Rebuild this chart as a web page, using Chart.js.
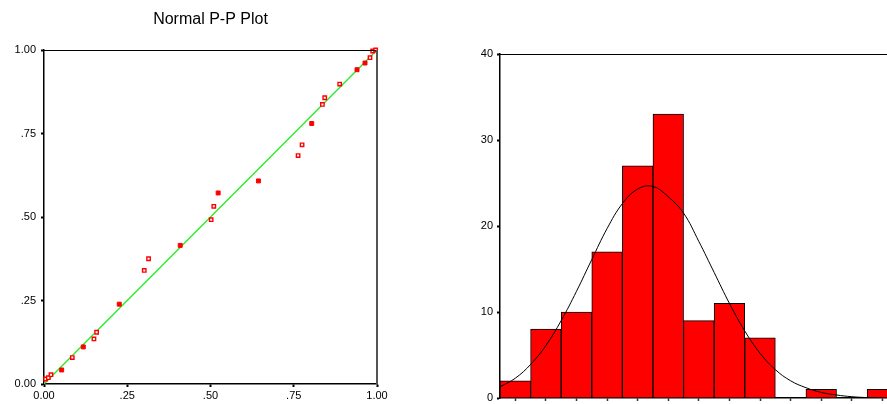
<!DOCTYPE html>
<html>
<head>
<meta charset="utf-8">
<script src="https://cdn.jsdelivr.net/npm/chart.js@4"></script>
<style>
  html, body { margin: 0; padding: 0; background: #fff; overflow: hidden; }
  #left { position: absolute; left: 0; top: 0; width: 440px; height: 404px; }
  #right { position: absolute; left: 440px; top: 0; width: 447px; height: 424px; }
</style>
</head>
<body>
<div id="left"><canvas id="pp"></canvas></div>
<div id="right"><canvas id="hist"></canvas></div>
<script>
// P-P plot: observed cum prob (x) vs expected cum prob (y)
const ppOpenX = [0.005, 0.013, 0.021, 0.085, 0.150, 0.158, 0.301, 0.314, 0.502, 0.510, 0.763, 0.775, 0.836, 0.843, 0.888, 0.979, 0.987, 0.996];
const ppOpenY = [0.015, 0.019, 0.028, 0.079, 0.135, 0.155, 0.340, 0.375, 0.492, 0.532, 0.684, 0.716, 0.837, 0.857, 0.898, 0.977, 0.997, 1.000];
const ppSolidX = [0.053, 0.118, 0.226, 0.409, 0.523, 0.644, 0.804, 0.940, 0.964];
const ppSolidY = [0.042, 0.111, 0.239, 0.415, 0.572, 0.608, 0.780, 0.941, 0.961];
const ppTicks = [0, 0.25, 0.5, 0.75, 1];
const ppTickLabels = ['0.00', '.25', '.50', '.75', '1.00'];

// histogram
const binCenters = [0.5, 1.5, 2.5, 3.5, 4.5, 5.5, 6.5, 7.5, 8.5, 9.5, 10.5, 11.5, 12.5];
const binCounts = [2, 8, 10, 17, 27, 33, 9, 11, 7, 0, 1, 0, 1];
const curveX = [0, 0.5, 1, 1.5, 2, 2.5, 3, 3.5, 4, 4.5, 5, 5.5, 6, 6.5, 7, 7.5, 8, 8.5, 9, 9.5, 10, 10.5, 11, 11.5, 12, 12.5];
const curveY = [1.3, 2.3, 3.9, 6.1, 9.0, 12.4, 16.1, 19.7, 22.6, 24.3, 24.6, 23.4, 21.5, 18.2, 14.6, 11.0, 7.8, 5.2, 3.3, 2.0, 1.2, 0.65, 0.35, 0.15, 0.05, 0];
const histTicks = [0, 10, 20, 30, 40];

const font = { family: 'Liberation Sans, Arial, sans-serif', size: 11 };
Chart.defaults.color = '#000';

const framePlugin = {
    id: 'frame',
    afterDraw(chart, args, opts) {
        const a = chart.chartArea;
        const c = chart.ctx;
        c.save();
        c.strokeStyle = '#000';
        c.lineWidth = 1;
        c.beginPath();
        c.moveTo(a.left, a.top + 0.5);
        c.lineTo(a.right, a.top + 0.5);
        c.stroke();
        if (opts.right) {
            c.strokeStyle = '#555';
            c.lineWidth = 2;
            c.beginPath();
            c.moveTo(a.right, a.top);
            c.lineTo(a.right, a.bottom);
            c.stroke();
        }
        c.restore();
    }
};

function pts(xs, ys) {
    return xs.map((x, i) => ({ x: x, y: ys[i] }));
}

new Chart(document.getElementById('pp'), {
    type: 'scatter',
    data: {
        datasets: [{
            type: 'line',
            data: [{ x: 0, y: 0 }, { x: 1, y: 1 }],
            borderColor: '#22ee22',
            borderWidth: 1.3,
            pointRadius: 0,
            order: 2
        }, {
            data: pts(ppOpenX, ppOpenY),
            pointStyle: 'rect',
            pointRadius: 2.4,
            borderColor: '#ff0000',
            backgroundColor: '#ffffff',
            borderWidth: 1.4,
            clip: false,
            order: 1
        }, {
            data: pts(ppSolidX, ppSolidY),
            pointStyle: 'rect',
            pointRadius: 2.8,
            borderColor: '#ff0000',
            backgroundColor: '#ff0000',
            borderWidth: 1,
            clip: false,
            order: 0
        }]
    },
    options: {
        responsive: true,
        maintainAspectRatio: false,
        animation: false,
        layout: { padding: { left: 0, right: 63, top: 0, bottom: 0 } },
        plugins: {
            legend: { display: false },
            tooltip: { enabled: false },
            title: {
                display: true,
                text: 'Normal P-P Plot',
                fullSize: false,
                color: '#000',
                font: { family: 'Liberation Sans, Arial, sans-serif', size: 16, weight: 'normal' },
                padding: { top: 10, bottom: 20.8 }
            },
            frame: { right: true }
        },
        scales: {
            x: {
                type: 'linear', min: 0, max: 1,
                afterBuildTicks: s => { s.ticks = ppTicks.map(v => ({ value: v })); },
                afterFit: s => { s.height = 20; },
                grid: { drawOnChartArea: false, tickLength: 3, tickWidth: 2, tickColor: '#000' },
                border: { color: '#000', width: 1.5 },
                ticks: { font: font, padding: 2, maxRotation: 0, callback: (v, i) => ppTickLabels[i] }
            },
            y: {
                type: 'linear', min: 0, max: 1,
                afterBuildTicks: s => { s.ticks = ppTicks.map(v => ({ value: v })); },
                afterFit: s => { s.width = 44; },
                grid: { drawOnChartArea: false, tickLength: 3, tickWidth: 2, tickColor: '#000' },
                border: { color: '#000', width: 1.5 },
                ticks: { font: font, padding: 5, callback: (v, i) => ppTickLabels[i] }
            }
        }
    },
    plugins: [framePlugin]
});

new Chart(document.getElementById('hist'), {
    type: 'bar',
    data: {
        datasets: [{
            type: 'line',
            data: pts(curveX, curveY),
            borderColor: '#000',
            borderWidth: 1,
            pointRadius: 0,
            tension: 0.4,
            order: 0
        }, {
            data: pts(binCenters, binCounts),
            backgroundColor: '#ff0000',
            borderColor: '#000',
            borderWidth: 1,
            barPercentage: 1,
            categoryPercentage: 1,
            order: 1
        }]
    },
    options: {
        responsive: true,
        maintainAspectRatio: false,
        animation: false,
        layout: { padding: { left: 0, right: 0, top: 54, bottom: 0 } },
        plugins: {
            legend: { display: false },
            tooltip: { enabled: false },
            frame: { right: false }
        },
        scales: {
            x: {
                type: 'linear', min: 0, max: 12.65, offset: false,
                afterBuildTicks: s => { s.ticks = binCenters.map(v => ({ value: v })); },
                afterFit: s => { s.height = 26; },
                grid: { drawOnChartArea: false, offset: false, tickLength: 3, tickWidth: 1.5, tickColor: '#333' },
                border: { color: '#000', width: 1.5 },
                ticks: { display: false }
            },
            y: {
                type: 'linear', min: 0, max: 40,
                afterBuildTicks: s => { s.ticks = histTicks.map(v => ({ value: v })); },
                afterFit: s => { s.width = 60; },
                grid: { drawOnChartArea: false, tickLength: 3, tickWidth: 2, tickColor: '#000' },
                border: { color: '#000', width: 1.5 },
                ticks: { font: font, padding: 4 }
            }
        }
    },
    plugins: [framePlugin]
});
</script>
</body>
</html>
